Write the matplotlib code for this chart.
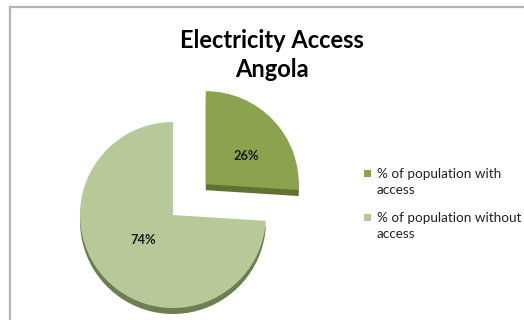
import matplotlib.pyplot as plt
from matplotlib.lines import Line2D
from matplotlib.patches import Rectangle

# data
labels = ['% of population with\naccess', '% of population without\naccess']
values = [26, 74]
colors = ['#8BA24F', '#B7C998']
shadow_colors = ['#5F7234', '#6E7E52']

plt.rcParams['font.family'] = ['Lato', 'DejaVu Sans']

fig = plt.figure(figsize=(5.24, 3.2), dpi=100)
ax = fig.add_axes([0, 0, 1, 1])

# chart frame (top and left edge visible)
fig.add_artist(Line2D([9.5 / 524, 1], [1 - 7 / 320] * 2, color='#B4B4B4', lw=1.6))
fig.add_artist(Line2D([9.5 / 524] * 2, [0, 1 - 7 / 320], color='#B4B4B4', lw=1.6))

cx, cy, r = 173, 105, 93
# explode is in data units here (pixels)
explode = [45, 0]

# 3d edge: darker copy slightly lower
ax.pie(values, colors=shadow_colors, startangle=90, counterclock=False,
       explode=explode, radius=r, center=(cx, cy - 6), frame=True,
       wedgeprops=dict(linewidth=0))
wedges, texts = ax.pie(values, colors=colors, startangle=90, counterclock=False,
                       explode=explode, radius=r, center=(cx, cy), frame=True,
                       wedgeprops=dict(linewidth=0))
ax.set_xlim(0, 524)
ax.set_ylim(0, 320)
ax.set_aspect('equal')
ax.axis('off')

ax.text(246, 320 - 156, f'{values[0]}%', ha='center', va='center',
        fontsize=9.3, fontweight='bold', color='#1a1a1a')
ax.text(143, 320 - 240, f'{values[1]}%', ha='center', va='center',
        fontsize=9.3, fontweight='bold', color='#1a1a1a')

ax.text(272, 320 - 55, 'Electricity Access\nAngola', ha='center', va='center',
        fontsize=17, fontweight='bold', linespacing=1.3)

# legend, square aligned with first line of each label
for i, (lab, col) in enumerate(zip(labels, colors)):
    ty = 320 - (176 + 44 * i)
    ax.add_patch(Rectangle((364, ty - 0.5), 7, 7, facecolor=col, edgecolor='none'))
    ax.text(377, ty + 8, lab, ha='left', va='top', fontsize=9.7,
            color='#222222', linespacing=1.45)

fig.savefig('out.png', dpi=100)
